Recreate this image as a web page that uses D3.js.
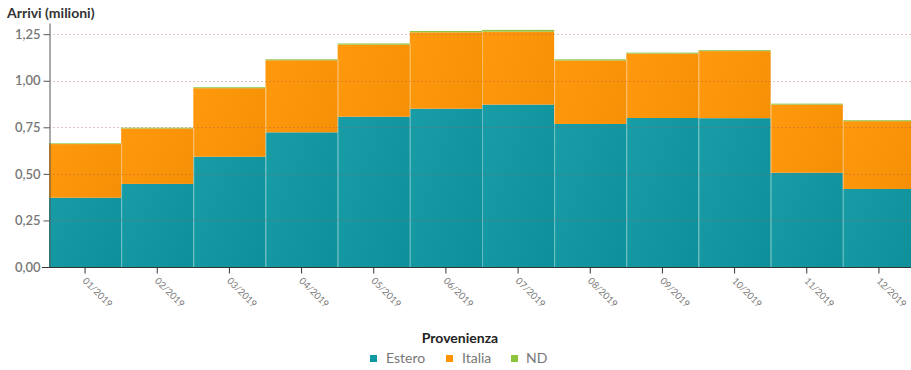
<!DOCTYPE html>
<html>
<head>
<meta charset="utf-8">
<script src="https://cdn.jsdelivr.net/npm/d3@7"></script>
<style>
  html, body { margin: 0; padding: 0; background: #fff; }
  svg { display: block; font-family: Lato, "Open Sans", sans-serif; }
</style>
</head>
<body>
<svg id="chart" width="911" height="370"></svg>
<script>
const months = ["01/2019","02/2019","03/2019","04/2019","05/2019","06/2019","07/2019","08/2019","09/2019","10/2019","11/2019","12/2019"];
const estero = [0.372,0.446,0.592,0.723,0.807,0.850,0.872,0.768,0.800,0.799,0.506,0.419];
const italia = [0.288,0.298,0.368,0.387,0.387,0.410,0.392,0.341,0.346,0.360,0.366,0.364];
const nd     = [0.004,0.004,0.005,0.005,0.006,0.007,0.009,0.006,0.005,0.005,0.005,0.005];
const seriesNames = ["Estero","Italia","ND"];
const seriesColors = ["#0e99a3","#ff9300","#8cc43c"];
const yTicks = [0, 0.25, 0.5, 0.75, 1.0, 1.25];

const svg = d3.select("#chart");
const x = d3.scaleBand().domain(months).range([49, 915]).padding(0);
const y = d3.scaleLinear().domain([0, 1.31]).range([267, 23]);

const rows = months.map((m, i) => ({month: m, Estero: estero[i], Italia: italia[i], ND: nd[i]}));
const stack = d3.stack().keys(seriesNames)(rows);
const color = d3.scaleOrdinal().domain(seriesNames).range(seriesColors);

// subtle shading gradient
const defs = svg.append("defs");
const g = defs.append("linearGradient").attr("id","shade").attr("x1",0).attr("x2",1).attr("y1",0).attr("y2",1);
g.append("stop").attr("offset","0%").attr("stop-color","#fff").attr("stop-opacity",0.05);
g.append("stop").attr("offset","100%").attr("stop-color","#000").attr("stop-opacity",0.06);

const barsG = svg.append("g");
stack.forEach(layer => {
  barsG.append("g").selectAll("rect").data(layer).join("rect")
    .attr("x", d => x(d.data.month))
    .attr("width", x.bandwidth())
    .attr("y", d => y(d[1]))
    .attr("height", d => y(d[0]) - y(d[1]))
    .attr("fill", color(layer.key));
});
// shading overlay
barsG.append("g").selectAll("rect").data(rows).join("rect")
  .attr("x", d => x(d.month))
  .attr("width", x.bandwidth())
  .attr("y", d => y(d.Estero + d.Italia + d.ND))
  .attr("height", d => y(0) - y(d.Estero + d.Italia + d.ND))
  .attr("fill", "url(#shade)");
// separators between bars
barsG.append("g").selectAll("line").data(rows.slice(1)).join("line")
  .attr("x1", d => x(d.month) + 0.5).attr("x2", d => x(d.month) + 0.5)
  .attr("y1", d => y(0))
  .attr("y2", (d, i) => y(Math.min(rows[i].Estero + rows[i].Italia + rows[i].ND, d.Estero + d.Italia + d.ND)))
  .attr("stroke", "rgba(255,255,255,0.35)").attr("stroke-width", 1);

// gridlines
svg.append("g").selectAll("line").data(yTicks.filter(t => t > 0)).join("line")
  .attr("x1", 49).attr("x2", 911)
  .attr("y1", d => Math.round(y(d)) + 0.5).attr("y2", d => Math.round(y(d)) + 0.5)
  .attr("stroke", "rgba(170,90,90,0.35)").attr("stroke-width", 1)
  .attr("stroke-dasharray", "2,2");

// y axis
const yAxis = d3.axisLeft(y).tickValues(yTicks).tickSize(6).tickSizeOuter(0)
  .tickFormat(d => d3.format(".2f")(d).replace(".", ","));
const ya = svg.append("g").attr("transform", "translate(49.5,0)").call(yAxis);
ya.select(".domain").attr("stroke", "#555");
ya.selectAll(".tick line").attr("stroke", "#555");
ya.selectAll(".tick text").attr("fill", "#777").attr("font-size", 13).attr("font-weight", 600)
  .attr("x", -9).attr("font-family", "Lato, sans-serif");

// x axis
const xAxis = d3.axisBottom(x).tickSize(6).tickSizeOuter(0);
const xa = svg.append("g").attr("transform", "translate(0,267.5)").call(xAxis);
xa.select(".domain").attr("stroke", "#333").attr("d", "M42,0H915");
xa.selectAll(".tick line").attr("stroke", "#333");
xa.selectAll(".tick text")
  .attr("fill", "#777").attr("font-size", 9.5).attr("font-family", "Lato, sans-serif")
  .attr("text-anchor", "start").attr("dy", null).attr("y", 0)
  .attr("transform", "translate(-3,14) rotate(45)");

// title
svg.append("text").attr("x", 7).attr("y", 18).text("Arrivi (milioni)")
  .attr("font-size", 14).attr("font-weight", 700).attr("fill", "#333");

// legend
svg.append("text").attr("x", 460).attr("y", 343).attr("text-anchor", "middle")
  .text("Provenienza").attr("font-size", 14).attr("font-weight", 700).attr("fill", "#222");
const legendX = [370, 446, 511];
const leg = svg.append("g").selectAll("g").data(seriesNames).join("g")
  .attr("transform", (d, i) => `translate(${legendX[i]},0)`);
leg.append("rect").attr("x", 0).attr("y", 355).attr("width", 7).attr("height", 7)
  .attr("fill", d => color(d));
leg.append("text").attr("x", (d, i) => [16, 16, 15][i]).attr("y", 363)
  .text(d => d).attr("font-size", 14).attr("fill", "#777");
</script>
</body>
</html>
